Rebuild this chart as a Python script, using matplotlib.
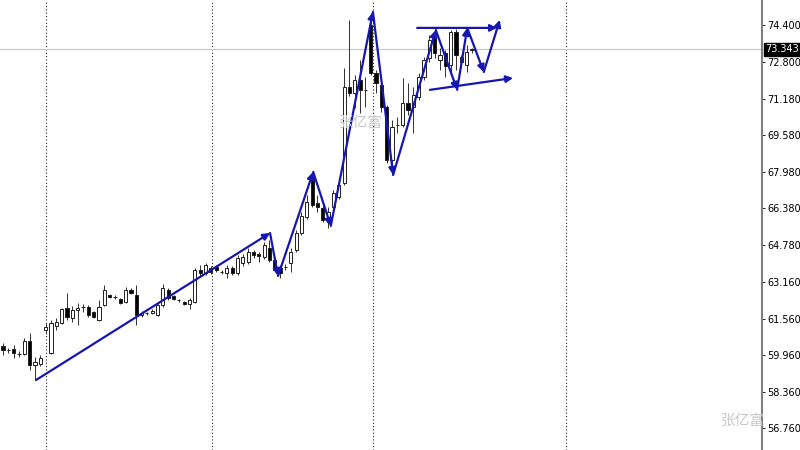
import matplotlib
matplotlib.use('Agg')
import matplotlib.pyplot as plt
import matplotlib.transforms as mtransforms

# OHLC per bar (bar index 0..88)
opens = [60.36, 60.18, 60.23, 60.01, 60.01, 60.58, 59.53, 59.57, 61.06, 60.05,
         61.23, 61.37, 62.02, 61.58, 61.93, 62.07, 62.07, 61.85, 61.50, 62.15,
         62.59, 62.50, 62.41, 62.28, 62.81, 62.59, 61.72, 61.80, 61.80, 61.72,
         62.15, 62.81, 62.55, 62.37, 62.28, 62.20, 62.28, 63.68, 63.55, 63.77,
         63.81, 63.60, 63.55, 63.77, 63.55, 63.99, 64.03, 64.47, 64.38, 64.25,
         64.65, 64.12, 63.77, 63.81, 63.99, 64.56, 65.30, 66.00, 67.75, 66.61,
         66.40, 65.78, 66.44, 66.88, 67.49, 71.69, 71.43, 71.99, 71.56, 74.40,
         72.30, 71.78, 70.81, 68.50, 70.03, 70.03, 70.99, 70.81, 71.25, 72.13,
         72.96, 73.83, 72.87, 73.18, 72.65, 74.09, 72.78, 72.65, 73.31]
highs = [60.49, 60.27, 60.40, 60.14, 60.71, 60.93, 59.88, 59.97, 61.37, 61.50,
         61.58, 62.02, 62.68, 62.11, 62.24, 62.20, 62.15, 61.89, 62.37, 63.03,
         62.63, 62.59, 62.46, 62.94, 62.90, 63.03, 61.89, 61.85, 61.98, 62.20,
         63.07, 62.90, 62.59, 62.41, 62.33, 62.46, 63.77, 63.90, 63.99, 63.86,
         63.90, 63.68, 63.90, 63.86, 64.34, 64.38, 64.65, 64.56, 64.47, 64.91,
         65.00, 64.25, 63.90, 63.95, 64.65, 65.43, 66.22, 66.96, 67.97, 66.96,
         66.53, 66.44, 67.18, 67.58, 72.52, 74.62, 72.21, 72.87, 72.13, 74.93,
         72.43, 71.91, 70.90, 70.24, 70.38, 72.08, 71.86, 71.69, 72.30, 73.00,
         73.96, 74.18, 73.39, 73.31, 74.18, 74.23, 73.09, 73.53, 73.39]
lows = [59.97, 60.05, 59.83, 59.88, 59.97, 59.31, 58.87, 59.48, 60.88, 60.01,
        61.06, 61.32, 61.50, 61.41, 61.28, 61.85, 61.63, 61.58, 61.45, 62.11,
        62.46, 62.41, 62.20, 62.24, 62.63, 61.28, 61.63, 61.72, 61.76, 61.67,
        62.07, 62.37, 62.37, 62.28, 62.15, 61.98, 62.24, 63.38, 63.46, 63.51,
        63.60, 63.51, 63.33, 63.46, 63.46, 63.86, 63.95, 64.21, 64.03, 64.16,
        64.03, 63.60, 63.33, 63.68, 63.60, 64.47, 65.21, 65.91, 66.44, 66.22,
        65.78, 65.52, 66.31, 66.79, 67.40, 71.29, 70.77, 70.55, 70.81, 72.21,
        71.43, 70.59, 68.36, 67.84, 69.68, 69.94, 70.46, 69.68, 71.12, 71.99,
        72.78, 72.96, 72.43, 72.13, 72.21, 72.43, 72.52, 72.34, 73.18]
closes = [60.18, 60.19, 60.05, 60.00, 60.58, 59.53, 59.66, 59.83, 61.19, 61.37,
          61.41, 61.98, 61.63, 61.93, 62.02, 62.06, 61.72, 61.63, 62.07, 62.81,
          62.50, 62.49, 62.24, 62.81, 62.68, 61.72, 61.80, 61.81, 61.89, 62.15,
          62.90, 62.46, 62.41, 62.36, 62.20, 62.37, 63.68, 63.55, 63.90, 63.60,
          63.68, 63.59, 63.77, 63.55, 64.21, 64.25, 64.47, 64.34, 64.30, 64.78,
          64.12, 63.68, 63.55, 63.80, 64.47, 65.30, 66.05, 66.66, 66.53, 66.44,
          65.87, 66.22, 67.05, 67.40, 71.69, 71.43, 71.99, 71.56, 71.55, 72.30,
          71.86, 70.81, 68.50, 69.94, 70.02, 70.99, 70.68, 71.34, 72.13, 72.87,
          73.74, 73.18, 73.09, 72.61, 74.09, 73.09, 73.00, 73.22, 73.34]

last_price = 73.343
price_ticks = [74.40, 72.80, 71.18, 69.58, 67.98, 66.38, 64.78, 63.16, 61.56, 59.96, 58.36, 56.76]
period_breaks = [8.1, 39.2, 69.4, 105.6]

# hand-drawn arrows (bar index, price)
trend_x = [6.2, 50.1]
trend_y = [58.87, 65.30]
zigzag_x = [50.1, 51.6, 58.2, 61.5, 69.4, 73.2, 81.2, 85.2, 87.1, 90.2, 93.2]
zigzag_y = [65.30, 63.42, 67.97, 65.61, 74.97, 67.84, 74.18, 71.56, 74.27, 72.34, 74.62]
top_x = [77.7, 92.7]
top_y = [74.27, 74.27]
low_x = [80.1, 95.7]
low_y = [71.56, 72.08]

BLUE = '#1616b0'

fig = plt.figure(figsize=(8, 4.5), dpi=100)
ax = fig.add_axes([0, 0, 762 / 800, 1])

for xb in period_breaks:
    ax.axvline(xb, color='#222222', lw=0.8, ls=(0, (1, 2)), zorder=1)

ax.axhline(last_price, color='#c8c8c8', lw=0.8, zorder=1)

idx = list(range(len(opens)))
ax.vlines(idx, lows, highs, color='#303030', lw=0.7, zorder=2)
bottoms = [min(o, c) for o, c in zip(opens, closes)]
heights = [max(abs(c - o), 0.005) for o, c in zip(opens, closes)]
faces = ['white' if c >= o else 'black' for o, c in zip(opens, closes)]
ax.bar(idx, heights, bottom=bottoms, width=0.6, color=faces,
       edgecolor='#202020', linewidth=0.7, zorder=3)


def arrow(x0, y0, x1, y1):
    ax.annotate('', xy=(x1, y1), xytext=(x0, y0),
                arrowprops=dict(arrowstyle='-|>', color=BLUE, lw=1.6,
                                mutation_scale=10, shrinkA=0, shrinkB=0),
                zorder=4)


arrow(trend_x[0], trend_y[0], trend_x[1], trend_y[1])
for i in range(len(zigzag_x) - 1):
    arrow(zigzag_x[i], zigzag_y[i], zigzag_x[i + 1], zigzag_y[i + 1])
arrow(top_x[0], top_y[0], top_x[1], top_y[1])
arrow(low_x[0], low_y[0], low_x[1], low_y[1])

ax.set_xlim(-0.56, 142.4)
ax.set_ylim(55.81, 75.49)

for s in ['top', 'left', 'bottom']:
    ax.spines[s].set_visible(False)
ax.spines['right'].set_color('#808080')
ax.spines['right'].set_linewidth(1.5)
ax.set_xticks([])
ax.yaxis.tick_right()
ax.set_yticks(price_ticks)
ax.set_yticklabels(['%.3f' % p for p in price_ticks])
ax.tick_params(axis='y', length=2, width=0.6, pad=2, labelsize=7, colors='black')

trans = mtransforms.blended_transform_factory(ax.transAxes, ax.transData)
ax.text(1.004, last_price, '%.3f' % last_price, transform=trans, fontsize=7,
        color='white', va='center', ha='left',
        bbox=dict(boxstyle='square,pad=0.15', facecolor='black', edgecolor='black'))

wm = ['Noto Sans CJK SC', 'DejaVu Sans']
fig.text(361 / 800, 1 - 123 / 450, '张亿富', family=wm, fontsize=10.5,
         color='#c8c8c8', ha='center', va='center')
fig.text(743 / 800, 1 - 421 / 450, '张亿富', family=wm, fontsize=10.5,
         color='#c8c8c8', ha='center', va='center')

fig.savefig('out.png', dpi=100)
